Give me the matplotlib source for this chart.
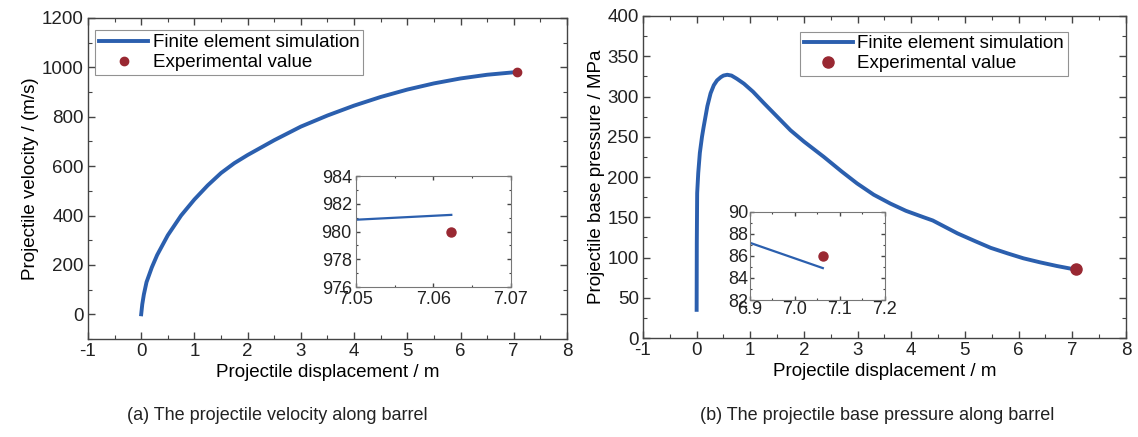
import matplotlib

matplotlib.use("Agg")
import matplotlib.pyplot as plt
from matplotlib.ticker import MultipleLocator

plt.rcParams["font.family"] = ["Liberation Sans", "DejaVu Sans"]
plt.rcParams["font.size"] = 13.5
plt.rcParams["axes.unicode_minus"] = False

BLUE = "#2b5fae"
RED = "#992832"
SPINE = "#444444"

# velocity along barrel
vel_x = [0, 0.02, 0.05, 0.1, 0.2, 0.3, 0.5, 0.75, 1.0, 1.25, 1.5, 1.75, 2.0,
         2.5, 3.0, 3.5, 4.0, 4.5, 5.0, 5.5, 6.0, 6.5, 7.0623]
vel_y = [0, 40, 80, 130, 190, 240, 320, 400, 465, 522, 572, 612, 645,
         705, 760, 805, 845, 880, 910, 935, 955, 970, 981.2]
vel_exp_x = [7.0623]
vel_exp_y = [980.0]
vel_zoom_x = [7.05, 7.0623]
vel_zoom_y = [980.85, 981.2]

# base pressure along barrel
pres_x = [0, 0.003, 0.01, 0.03, 0.06, 0.1, 0.13, 0.2, 0.26, 0.32, 0.38, 0.45,
          0.5, 0.57, 0.65, 0.75, 0.88, 1.05, 1.25, 1.5, 1.75, 2.0, 2.37,
          2.7, 2.99, 3.3, 3.61, 3.9, 4.23, 4.4, 4.86, 5.2, 5.48, 5.8, 6.09,
          6.4, 6.71, 7.062]
pres_y = [35, 118, 180, 205, 230, 250, 262, 288, 304, 314, 320, 324,
          326, 327, 326, 322, 316, 306, 292, 275, 258, 244, 225,
          207, 192, 178, 167, 158, 150, 146, 130, 120, 112, 105, 99,
          94, 89.5, 85]
pres_exp_x = [7.062]
pres_exp_y = [86.0]
pres_zoom_x = [6.9, 7.062]
pres_zoom_y = [87.2, 84.9]

CAPTIONS = ["(a) The projectile velocity along barrel",
            "(b) The projectile base pressure along barrel"]


def style_axes(ax, xmaj, xmin, ymaj, ymin, length=5):
    ax.xaxis.set_major_locator(MultipleLocator(xmaj))
    ax.xaxis.set_minor_locator(MultipleLocator(xmin))
    ax.yaxis.set_major_locator(MultipleLocator(ymaj))
    ax.yaxis.set_minor_locator(MultipleLocator(ymin))
    ax.tick_params(which="both", direction="in", top=True, right=True,
                   color=SPINE, labelcolor="#222222", pad=3)
    ax.tick_params(which="major", length=length, width=1)
    ax.tick_params(which="minor", length=length * 0.6, width=0.8)
    for s in ax.spines.values():
        s.set_color(SPINE)
        s.set_linewidth(1.0)


def add_legend(ax, anchor):
    leg = ax.legend(loc="upper left", bbox_to_anchor=anchor, fancybox=False,
                    edgecolor="#777777", handlelength=2.6, borderpad=0.2,
                    labelspacing=0.15, handletextpad=0.25, borderaxespad=0.4)
    leg.get_frame().set_linewidth(0.8)


fig = plt.figure(figsize=(11.38, 4.37), dpi=100)

# (a) velocity
ax1 = fig.add_axes([0.0773, 0.2243, 0.4209, 0.7346])
ax1.plot(vel_x, vel_y, color=BLUE, lw=2.8, label="Finite element simulation",
         solid_joinstyle="round")
ax1.plot(vel_exp_x, vel_exp_y, "o", color=RED, ms=6, label="Experimental value")
ax1.set_xlim(-1, 8)
ax1.set_ylim(-100, 1200)
style_axes(ax1, 1, 0.5, 200, 100)
ax1.set_xlabel("Projectile displacement / m", labelpad=3)
ax1.set_ylabel("Projectile velocity / (m/s)", labelpad=2)
add_legend(ax1, (0.0, 0.985))

in1 = fig.add_axes([0.3128, 0.3432, 0.1362, 0.254])
in1.plot(vel_zoom_x, vel_zoom_y, color=BLUE, lw=1.6)
in1.plot(vel_exp_x, vel_exp_y, "o", color=RED, ms=6.5)
in1.set_xlim(7.05, 7.07)
in1.set_ylim(976, 984)
style_axes(in1, 0.01, 0.005, 2, 1, length=3)
in1.tick_params(labelsize=13)
for s in in1.spines.values():
    s.set_color("#777777")
    s.set_linewidth(0.8)

# (b) base pressure
ax2 = fig.add_axes([0.565, 0.2265, 0.4244, 0.7369])
ax2.plot(pres_x, pres_y, color=BLUE, lw=2.8, label="Finite element simulation",
         solid_joinstyle="round")
ax2.plot(pres_exp_x, pres_exp_y, "o", color=RED, ms=8, label="Experimental value")
ax2.set_xlim(-1, 8)
ax2.set_ylim(0, 400)
style_axes(ax2, 1, 0.5, 50, 25)
ax2.set_xlabel("Projectile displacement / m", labelpad=3)
ax2.set_ylabel("Projectile base pressure / MPa", labelpad=2)
add_legend(ax2, (0.31, 0.975))

in2 = fig.add_axes([0.659, 0.3135, 0.1186, 0.2014])
in2.plot(pres_zoom_x, pres_zoom_y, color=BLUE, lw=1.6)
in2.plot(pres_exp_x, pres_exp_y, "o", color=RED, ms=6.5)
in2.set_xlim(6.9, 7.2)
in2.set_ylim(82, 90)
style_axes(in2, 0.1, 0.05, 2, 1, length=3)
in2.xaxis.set_major_formatter(plt.FormatStrFormatter("%.1f"))
in2.tick_params(labelsize=13, pad=1)
for s in in2.spines.values():
    s.set_color("#777777")
    s.set_linewidth(0.8)

fig.text(0.2435, 0.05, CAPTIONS[0], ha="center", va="center",
         fontsize=13, color="#222222")
fig.text(0.771, 0.05, CAPTIONS[1], ha="center", va="center",
         fontsize=13, color="#222222")

fig.savefig("out.png", dpi=100)
plt.close(fig)
